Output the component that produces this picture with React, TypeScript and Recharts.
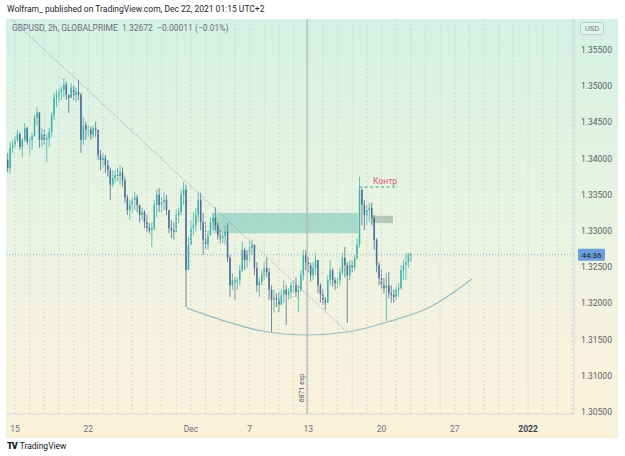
import React from 'react';
import {
  ComposedChart,
  Bar,
  Line,
  XAxis,
  YAxis,
  ReferenceLine,
  ReferenceArea,
  ReferenceDot,
} from 'recharts';

// ---------- data (GBPUSD 2h view, resampled to 4h candles: [high, low, close]) ----------
const FIRST_OPEN = 1.3398;
const BAR_T0 = -0.5; // Nov 12 12:00, in trading-day units (Nov 15 = 0)
const BARS_PER_DAY = 6;

const weekNov12: number[][] = [
  [1.3408, 1.3381, 1.3387], [1.3423, 1.3379, 1.3415], [1.3426, 1.3408, 1.3419],
];
const weekNov15: number[][] = [
  [1.3431, 1.3415, 1.3426], [1.3440, 1.3423, 1.3434], [1.3437, 1.3412, 1.3416],
  [1.3428, 1.3402, 1.3426], [1.3449, 1.3423, 1.3442], [1.3444, 1.3419, 1.3423],
  [1.3430, 1.3405, 1.3426], [1.3435, 1.3412, 1.3431], [1.3460, 1.3430, 1.3456],
  [1.3471, 1.3446, 1.3464], [1.3463, 1.3415, 1.3426], [1.3442, 1.3416, 1.3433],
  [1.3440, 1.3419, 1.3426], [1.3435, 1.3395, 1.3428], [1.3442, 1.3416, 1.3437],
  [1.3464, 1.3430, 1.3460], [1.3491, 1.3453, 1.3484], [1.3495, 1.3471, 1.3488],
  [1.3498, 1.3477, 1.3492], [1.3500, 1.3481, 1.3495], [1.3511, 1.3485, 1.3502],
  [1.3506, 1.3481, 1.3488], [1.3488, 1.3463, 1.3484], [1.3504, 1.3484, 1.3498],
  [1.3500, 1.3481, 1.3488], [1.3498, 1.3478, 1.3492], [1.3509, 1.3481, 1.3488],
  [1.3491, 1.3408, 1.3426], [1.3457, 1.3419, 1.3446], [1.3451, 1.3426, 1.3440],
];
const weekNov22: number[][] = [
  [1.3446, 1.3430, 1.3440], [1.3444, 1.3426, 1.3433], [1.3446, 1.3428, 1.3442],
  [1.3451, 1.3430, 1.3440], [1.3433, 1.3398, 1.3405], [1.3412, 1.3384, 1.3398],
  [1.3408, 1.3388, 1.3401], [1.3405, 1.3380, 1.3391], [1.3398, 1.3375, 1.3384],
  [1.3388, 1.3343, 1.3364], [1.3384, 1.3361, 1.3373], [1.3384, 1.3366, 1.3377],
  [1.3387, 1.3368, 1.3376], [1.3391, 1.3364, 1.3381], [1.3388, 1.3361, 1.3370],
  [1.3375, 1.3339, 1.3346], [1.3350, 1.3322, 1.3329], [1.3343, 1.3315, 1.3336],
  [1.3347, 1.3325, 1.3343], [1.3354, 1.3329, 1.3346], [1.3350, 1.3326, 1.3336],
  [1.3336, 1.3312, 1.3322], [1.3332, 1.3315, 1.3326], [1.3329, 1.3304, 1.3312],
  [1.3322, 1.3299, 1.3304], [1.3311, 1.3297, 1.3301], [1.3312, 1.3278, 1.3304],
  [1.3343, 1.3301, 1.3336], [1.3357, 1.3319, 1.3350], [1.3359, 1.3326, 1.3336],
];
const weekNov29: number[][] = [
  [1.3346, 1.3326, 1.3340], [1.3353, 1.3329, 1.3343], [1.3350, 1.3322, 1.3329],
  [1.3329, 1.3297, 1.3304], [1.3315, 1.3290, 1.3301], [1.3312, 1.3288, 1.3299],
  [1.3329, 1.3304, 1.3322], [1.3332, 1.3311, 1.3326], [1.3357, 1.3322, 1.3350],
  [1.3368, 1.3336, 1.3357], [1.3364, 1.3195, 1.3246], [1.3292, 1.3249, 1.3281],
  [1.3315, 1.3281, 1.3304], [1.3326, 1.3294, 1.3308], [1.3332, 1.3299, 1.3322],
  [1.3353, 1.3312, 1.3343], [1.3353, 1.3301, 1.3312], [1.3325, 1.3267, 1.3288],
  [1.3312, 1.3274, 1.3281], [1.3301, 1.3274, 1.3294], [1.3319, 1.3294, 1.3312],
  [1.3325, 1.3301, 1.3318], [1.3333, 1.3301, 1.3308], [1.3312, 1.3288, 1.3294],
  [1.3304, 1.3283, 1.3290], [1.3297, 1.3283, 1.3293], [1.3308, 1.3281, 1.3299],
  [1.3311, 1.3257, 1.3263], [1.3267, 1.3209, 1.3225], [1.3242, 1.3219, 1.3232],
];
const weekDec6: number[][] = [
  [1.3236, 1.3205, 1.3230], [1.3236, 1.3219, 1.3232], [1.3253, 1.3225, 1.3246],
  [1.3285, 1.3243, 1.3274], [1.3277, 1.3246, 1.3260], [1.3274, 1.3249, 1.3267],
  [1.3285, 1.3257, 1.3277], [1.3288, 1.3267, 1.3281], [1.3281, 1.3239, 1.3249],
  [1.3257, 1.3216, 1.3225], [1.3236, 1.3209, 1.3230], [1.3246, 1.3225, 1.3239],
  [1.3257, 1.3232, 1.3249], [1.3263, 1.3236, 1.3243], [1.3249, 1.3205, 1.3219],
  [1.3225, 1.3161, 1.3205], [1.3219, 1.3187, 1.3207], [1.3214, 1.3195, 1.3205],
  [1.3216, 1.3188, 1.3198], [1.3219, 1.3198, 1.3212], [1.3232, 1.3201, 1.3219],
  [1.3225, 1.3170, 1.3212], [1.3221, 1.3205, 1.3216], [1.3230, 1.3207, 1.3225],
  [1.3232, 1.3214, 1.3225], [1.3236, 1.3209, 1.3216], [1.3225, 1.3188, 1.3219],
  [1.3246, 1.3216, 1.3239], [1.3274, 1.3232, 1.3267], [1.3274, 1.3246, 1.3257],
];
const weekDec13: number[][] = [
  [1.3264, 1.3243, 1.3253], [1.3256, 1.3230, 1.3239], [1.3257, 1.3232, 1.3249],
  [1.3270, 1.3239, 1.3260], [1.3257, 1.3214, 1.3225], [1.3228, 1.3201, 1.3212],
  [1.3219, 1.3198, 1.3205], [1.3209, 1.3191, 1.3201], [1.3239, 1.3201, 1.3232],
  [1.3260, 1.3225, 1.3246], [1.3249, 1.3223, 1.3232], [1.3236, 1.3219, 1.3228],
  [1.3236, 1.3221, 1.3232], [1.3249, 1.3225, 1.3243], [1.3270, 1.3239, 1.3263],
  [1.3278, 1.3236, 1.3253], [1.3257, 1.3173, 1.3239], [1.3260, 1.3232, 1.3253],
  [1.3260, 1.3243, 1.3250], [1.3267, 1.3246, 1.3263], [1.3290, 1.3260, 1.3281],
  [1.3375, 1.3277, 1.3357], [1.3359, 1.3308, 1.3336], [1.3343, 1.3301, 1.3322],
  [1.3336, 1.3308, 1.3329], [1.3339, 1.3312, 1.3332], [1.3339, 1.3308, 1.3318],
  [1.3322, 1.3274, 1.3288], [1.3290, 1.3243, 1.3253], [1.3257, 1.3225, 1.3235],
];
const weekDec20: number[][] = [
  [1.3246, 1.3219, 1.3225], [1.3235, 1.3214, 1.3221], [1.3242, 1.3176, 1.3225],
  [1.3243, 1.3207, 1.3214], [1.3225, 1.3201, 1.3212], [1.3219, 1.3201, 1.3209],
  [1.3223, 1.3205, 1.3219], [1.3228, 1.3209, 1.3221], [1.3253, 1.3219, 1.3246],
  [1.3260, 1.3232, 1.3253], [1.3270, 1.3232, 1.3257], [1.3270, 1.3249, 1.32683],
  [1.3270, 1.3257, 1.32672],
];

const LAST_PRICE = 1.32672;
const COUNTDOWN = '44:36';

// axis ticks (x in trading-day units, Nov 15 = 0)
const xTickTs = [0, 5, 12, 16, 20, 25, 30, 35];
const xTickLabels = ['15', '22', 'Dec', '7', '13', '20', '27', '2022'];
const priceTicks = [1.305, 1.31, 1.315, 1.32, 1.325, 1.33, 1.335, 1.34, 1.345, 1.35, 1.355];
const gridDays = Array.from({ length: 39 }, (_, d) => d);

// drawings
const trendLine = [
  { t: -0.2, p: 1.3592 },
  { t: 22.7, p: 1.316 },
];
const arcPoints = [
  { t: 11.73, p: 1.31936 },
  { t: 14.53, p: 1.31743 },
  { t: 16.85, p: 1.31619 },
  { t: 19.92, p: 1.31564 },
  { t: 22.65, p: 1.31605 },
  { t: 25.38, p: 1.31743 },
  { t: 28.31, p: 1.3195 },
  { t: 31.17, p: 1.32337 },
];
const tealZone = { t1: 13.5, t2: 23.4, p1: 1.3297, p2: 1.3325 };
const grayZone = { t1: 24.35, t2: 25.78, p1: 1.3311, p2: 1.3321 };
const pinkZone = { t1: 15.48, t2: 15.89, p1: 1.326, p2: 1.3272 };
const kontrLine = { t1: 23.47, t2: 26.13, p: 1.33608 };
const kontrLabel = { t: 25.24, p: 1.33691, text: 'Контр' };
const expLine = { t: 19.92, text: '6871 exp' };

// ---------- build candle table ----------
const allBars = [
  ...weekNov12, ...weekNov15, ...weekNov22, ...weekNov29, ...weekDec6, ...weekDec13, ...weekDec20,
];
const candles = allBars.map((b, i) => {
  const o = i === 0 ? FIRST_OPEN : allBars[i - 1][2];
  return { t: BAR_T0 + i / BARS_PER_DAY, o, h: b[0], l: b[1], c: b[2], range: [b[1], b[0]] };
});

const UP = '#3cb3aa';
const DOWN = '#4d6c93';

const Candle = (props: any) => {
  const { x, y, width, height, payload } = props;
  if (!payload || height == null || isNaN(y)) return null;
  const { o, h, l, c } = payload;
  const top = Math.min(y, y + height);
  const span = Math.abs(height);
  const cx = x + width / 2;
  const k = h - l > 0 ? span / (h - l) : 0;
  const py = (p: number) => top + (h - p) * k;
  const up = c >= o;
  const color = up ? UP : DOWN;
  const bTop = py(Math.max(o, c));
  const bBot = py(Math.min(o, c));
  return (
    <g>
      <line x1={cx} x2={cx} y1={top} y2={top + span} stroke={color} strokeWidth={0.8} />
      <rect x={cx - 0.75} y={bTop} width={1.5} height={Math.max(0.8, bBot - bTop)} fill={color} />
    </g>
  );
};

const XTick = (props: any) => {
  const { x, y, payload } = props;
  const idx = xTickTs.indexOf(payload.value);
  const label = idx >= 0 ? xTickLabels[idx] : '';
  const bold = label === '2022';
  return (
    <text
      x={x}
      y={y}
      dy={16}
      textAnchor="middle"
      fontSize={8.5}
      fontFamily="Roboto"
      fontWeight={bold ? 700 : 400}
      fill={bold ? '#3b3f4a' : '#6c707a'}
    >
      {label}
    </text>
  );
};

const PriceTag = (props: any) => {
  const vb = props.viewBox;
  if (!vb) return null;
  const x0 = vb.x + vb.width + 4;
  return (
    <g>
      <rect x={x0} y={vb.y - 6} width={27} height={12} rx={1} fill="#6a9fd9" />
      <text x={x0 + 13.5} y={vb.y + 3} textAnchor="middle" fontSize={8} fontFamily="Roboto" fill="#142238">
        {COUNTDOWN}
      </text>
    </g>
  );
};

const ExpTag = (props: any) => {
  const vb = props.viewBox;
  if (!vb) return null;
  const tx = vb.x - 3.5;
  const ty = vb.y + vb.height - 26;
  return (
    <text
      x={tx}
      y={ty}
      transform={`rotate(-90 ${tx} ${ty})`}
      textAnchor="middle"
      fontSize={7}
      fontFamily="Roboto"
      fill="#4b5b72"
    >
      {expLine.text}
    </text>
  );
};

export default function App() {
  const W = 612;
  const H = 419;
  return (
    <div
      style={{
        position: 'absolute',
        left: 0,
        top: 0,
        width: 625,
        height: 456,
        background: '#ffffff',
        overflow: 'hidden',
        fontFamily: 'Roboto, sans-serif',
      }}
    >
      <div
        style={{
          position: 'absolute',
          left: 7,
          top: 4,
          fontSize: 8.5,
          lineHeight: '11px',
          color: '#1e222d',
          whiteSpace: 'nowrap',
        }}
      >
        Wolfram_ published on TradingView.com, Dec 22, 2021 01:15 UTC+2
      </div>
      <div
        style={{
          position: 'absolute',
          left: 6,
          top: 19,
          width: W,
          height: H,
          background: 'linear-gradient(to bottom, #d3f2e5 0%, #e9f3e2 45%, #f8f2dd 85%, #fbf1d9 100%)',
        }}
      />
      <div style={{ position: 'absolute', left: 6, top: 19 }}>
        <ComposedChart width={W} height={H} data={candles} margin={{ top: 0, right: 0, bottom: 0, left: 0 }}>
          <XAxis
            dataKey="t"
            type="number"
            domain={[-0.614, 38.13]}
            allowDataOverflow
            ticks={xTickTs}
            interval={0}
            tick={<XTick />}
            tickLine={false}
            tickSize={0}
            axisLine={{ stroke: '#cdd6e2' }}
            height={24}
          />
          <YAxis
            orientation="right"
            type="number"
            domain={[1.30473, 1.35928]}
            allowDataOverflow
            ticks={priceTicks}
            interval={0}
            tickFormatter={(v: number) => v.toFixed(5)}
            tick={{ fontSize: 8.5, fill: '#5a5e69', fontFamily: 'Roboto' }}
            tickLine={false}
            tickSize={0}
            tickMargin={7}
            axisLine={{ stroke: '#cdd6e2' }}
            width={44}
          />
          {gridDays.map((d) => (
            <ReferenceLine key={'g' + d} x={d} stroke="#c6d3d2" strokeDasharray="2 2" strokeWidth={0.8} />
          ))}
          <ReferenceArea
            x1={tealZone.t1}
            x2={tealZone.t2}
            y1={tealZone.p1}
            y2={tealZone.p2}
            fill="#26a69a"
            fillOpacity={0.34}
            stroke="none"
          />
          <ReferenceArea
            x1={grayZone.t1}
            x2={grayZone.t2}
            y1={grayZone.p1}
            y2={grayZone.p2}
            fill="#7f9c92"
            fillOpacity={0.5}
            stroke="none"
          />
          <ReferenceArea
            x1={pinkZone.t1}
            x2={pinkZone.t2}
            y1={pinkZone.p1}
            y2={pinkZone.p2}
            fill="#f48fb1"
            fillOpacity={0.55}
            stroke="none"
          />
          <ReferenceLine x={expLine.t} stroke="#b0b6bc" strokeWidth={1.2} label={<ExpTag />} />
          <ReferenceLine
            y={LAST_PRICE}
            stroke="#93b0cf"
            strokeDasharray="1 2"
            strokeWidth={1}
            label={<PriceTag />}
          />
          <ReferenceLine
            segment={[
              { x: trendLine[0].t, y: trendLine[0].p },
              { x: trendLine[1].t, y: trendLine[1].p },
            ]}
            stroke="#7d8fb8"
            strokeDasharray="1 1.5"
            strokeWidth={0.9}
          />
          <Line
            data={arcPoints}
            dataKey="p"
            type="monotone"
            stroke="#98bcc2"
            strokeWidth={1.2}
            dot={false}
            isAnimationActive={false}
          />
          <Bar dataKey="range" barSize={2} shape={<Candle />} isAnimationActive={false} />
          <ReferenceLine
            segment={[
              { x: kontrLine.t1, y: kontrLine.p },
              { x: kontrLine.t2, y: kontrLine.p },
            ]}
            stroke="#34a58f"
            strokeDasharray="3 2.5"
            strokeWidth={1}
          />
          <ReferenceDot
            x={kontrLabel.t}
            y={kontrLabel.p}
            r={0}
            fill="none"
            stroke="none"
            label={{ value: kontrLabel.text, position: 'center', fill: '#d9577a', fontSize: 8.5, fontFamily: 'Roboto' }}
          />
        </ComposedChart>
      </div>
      <div
        style={{
          position: 'absolute',
          left: 580,
          top: 22,
          width: 22,
          height: 11,
          border: '1px solid #c4cbd3',
          borderRadius: 3,
          fontSize: 7.5,
          lineHeight: '11px',
          textAlign: 'center',
          color: '#787b86',
          background: 'rgba(255,255,255,0.3)',
        }}
      >
        USD
      </div>
      <div
        style={{
          position: 'absolute',
          left: 12,
          top: 23,
          fontSize: 8.5,
          lineHeight: '11px',
          color: '#6b6e79',
          whiteSpace: 'nowrap',
        }}
      >
        GBPUSD, 2h, GLOBALPRIME&nbsp;&nbsp;1.32672&nbsp;&nbsp;−0.00011 (−0.01%)
      </div>
      <div
        style={{
          position: 'absolute',
          left: 7,
          top: 441,
          lineHeight: '11px',
          fontSize: 9,
          whiteSpace: 'nowrap',
          color: '#131722',
        }}
      >
        <span style={{ fontSize: 9, fontWeight: 900, letterSpacing: -1, marginRight: 3 }}>TV</span>
        <span style={{ fontSize: 8.5 }}>TradingView</span>
      </div>
    </div>
  );
}
